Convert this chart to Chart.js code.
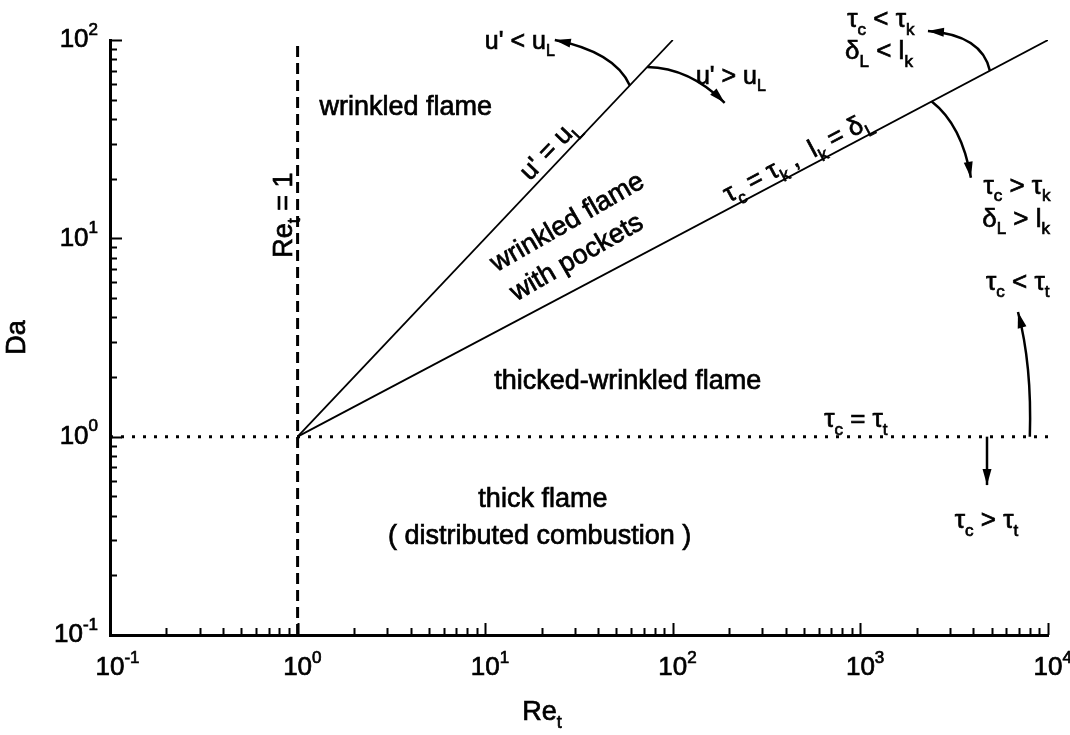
<!DOCTYPE html>
<html>
<head>
<meta charset="utf-8">
<script src="https://cdn.jsdelivr.net/npm/chart.js@4.4.1/dist/chart.umd.min.js"></script>
<style>
  html, body { margin: 0; padding: 0; background: #fff; }
</style>
</head>
<body>
<canvas id="regime" width="1070" height="735"></canvas>
<script>
const reTicks = [0.1, 1, 10, 100, 1000, 10000];
const daTicks = [0.1, 1, 10, 100];
const reExp = ['-1', '0', '1', '2', '3', '4'];
const daExp = ['-1', '0', '1', '2'];

// regime boundaries, Re_t vs Da
const reOneRe = [1, 1];
const reOneDa = [0.1, 100];
const tauTRe = [0.1, 10000];
const tauTDa = [1, 1];
const uLRe = [1, 100];
const uLDa = [1, 100];
const tauKRe = [1, 10000];
const tauKDa = [1, 100];

// text labels: [text, Re, Da, font size, angle]  ('_' = subscript next char)
const labels = [
  ['wrinkled flame', 3.77, 45.5, 27, 0],
  ["u' < u_L", 15.3, 97.8, 25, 0],
  ["u' > u_L", 204, 65.2, 25, 0],
  ["u' = u_L", 22.1, 27.9, 26, 'uL'],
  ['wrinkled flame', 27.5, 12.0, 27, -30],
  ['with pockets', 30.8, 7.96, 27, -30],
  ['τ_c = τ_k ,  l_k = δ_L', 464, 25.4, 26, 'tauK'],
  ['Re_t = 1', 0.852, 13.1, 27, -90],
  ['τ_c < τ_k', 1286, 126, 26, 0],
  ['δ_L < l_k', 1256, 87, 26, 0],
  ['τ_c > τ_k', 6835, 18.2, 26, 0],
  ['δ_L > l_k', 6760, 12.4, 26, 0],
  ['τ_c < τ_t', 6900, 5.96, 26, 0],
  ['τ_c = τ_t', 946, 1.21, 26, 0],
  ['τ_c > τ_t', 4700, 0.375, 26, 0],
  ['thicked-wrinkled flame', 57.5, 1.89, 27, 0],
  ['thick flame', 20.3, 0.48, 27, 0],
  ['( distributed combustion )', 19.5, 0.312, 27, 0]
];

// arrows: from, control, to  (Re, Da)
const arrows = [
  [[59, 59], [49.1, 87.1], [23.5, 100]],
  [[73, 73], [123, 72.3], [189, 48.2]],
  [[4900, 70], [4446, 106], [2291, 111]],
  [[2400, 49], [3476, 37.3], [3882, 20.2]],
  [[8000, 1], [8222, 2.3], [6918, 4.25]],
  [[4730, 1], null, [4730, 0.57]]
];

const FONT = '"Liberation Sans", Arial, sans-serif';

function pairs(xs, ys) {
  return xs.map((x, i) => ({ x: x, y: ys[i] }));
}

function parseRich(s) {
  const out = [];
  for (let i = 0; i < s.length; i++) {
    if (s[i] === '_') {
      out.push({ t: s[i + 1], sub: true });
      i++;
    } else if (out.length && !out[out.length - 1].sub) {
      out[out.length - 1].t += s[i];
    } else {
      out.push({ t: s[i], sub: false });
    }
  }
  return out;
}

// fill + thin stroke so the text looks as heavy as the scan
function ink(ctx, t, x, y) {
  ctx.fillText(t, x, y);
  ctx.strokeText(t, x, y);
}

function drawRich(ctx, text, px, py, size, angle) {
  const parts = parseRich(text);
  const subSize = Math.round(size * 0.65);
  let total = 0;
  parts.forEach(p => {
    ctx.font = (p.sub ? subSize : size) + 'px ' + FONT;
    p.w = ctx.measureText(p.t).width;
    total += p.w;
  });
  ctx.save();
  ctx.translate(px, py);
  ctx.rotate(angle);
  ctx.textBaseline = 'middle';
  ctx.textAlign = 'left';
  ctx.lineWidth = 0.7;
  let x = -total / 2;
  parts.forEach(p => {
    ctx.font = (p.sub ? subSize : size) + 'px ' + FONT;
    ink(ctx, p.t, x, p.sub ? size * 0.38 : 0);
    x += p.w;
  });
  ctx.restore();
}

function drawArrow(ctx, a, b, c) {
  ctx.beginPath();
  ctx.moveTo(a[0], a[1]);
  if (b) ctx.quadraticCurveTo(b[0], b[1], c[0], c[1]);
  else ctx.lineTo(c[0], c[1]);
  ctx.stroke();
  const from = b || a;
  const ang = Math.atan2(c[1] - from[1], c[0] - from[0]);
  const len = 16, half = 4.5;
  ctx.beginPath();
  ctx.moveTo(c[0], c[1]);
  ctx.lineTo(c[0] - len * Math.cos(ang) + half * Math.sin(ang), c[1] - len * Math.sin(ang) - half * Math.cos(ang));
  ctx.lineTo(c[0] - len * Math.cos(ang) - half * Math.sin(ang), c[1] - len * Math.sin(ang) + half * Math.cos(ang));
  ctx.closePath();
  ctx.fill();
}

const decor = {
  id: 'decor',
  afterDraw(chart) {
    const ctx = chart.ctx;
    const xs = chart.scales.x, ys = chart.scales.y;
    const area = chart.chartArea;
    const P = (re, da) => [xs.getPixelForValue(re), ys.getPixelForValue(da)];
    ctx.save();
    ctx.fillStyle = '#000';
    ctx.strokeStyle = '#000';

    // inward ticks, major and minor
    ctx.lineWidth = 2;
    ctx.beginPath();
    reTicks.forEach((v, i) => {
      for (let k = 1; k <= 9; k++) {
        if (i === reTicks.length - 1 && k > 1) break;
        const px = Math.round(xs.getPixelForValue(v * k)) + 0.5;
        const len = k === 1 ? 12 : 7;
        ctx.moveTo(px, area.bottom);
        ctx.lineTo(px, area.bottom - len);
      }
    });
    daTicks.forEach((v, i) => {
      for (let k = 1; k <= 9; k++) {
        if (i === daTicks.length - 1 && k > 1) break;
        const py = Math.round(ys.getPixelForValue(v * k)) + 0.5;
        const len = k === 1 ? 12 : 7;
        ctx.moveTo(area.left, py);
        ctx.lineTo(area.left + len, py);
      }
    });
    ctx.stroke();

    // tick labels 10^n
    ctx.textBaseline = 'middle';
    ctx.lineWidth = 0.7;
    reTicks.forEach((v, i) => {
      const px = xs.getPixelForValue(v);
      ctx.font = '26px ' + FONT;
      const w = ctx.measureText('10').width;
      ctx.textAlign = 'center';
      ink(ctx, '10', px, area.bottom + 33);
      ctx.font = '17px ' + FONT;
      ctx.textAlign = 'left';
      ink(ctx, reExp[i], px + w / 2, area.bottom + 23);
    });
    daTicks.forEach((v, i) => {
      const py = ys.getPixelForValue(v);
      ctx.font = '17px ' + FONT;
      const we = ctx.measureText(daExp[i]).width;
      ctx.textAlign = 'right';
      ink(ctx, daExp[i], area.left - 12, py - 10);
      ctx.font = '26px ' + FONT;
      ink(ctx, '10', area.left - 12 - we, py);
    });

    // axis titles
    drawRich(ctx, 'Da', area.left - 92, (area.top + area.bottom) / 2, 27, -Math.PI / 2);
    drawRich(ctx, 'Re_t', area.left + 432, area.bottom + 78, 27, 0);

    // region labels
    const lineAngle = (res, das) => {
      const a = P(res[0], das[0]), b = P(res[1], das[1]);
      return Math.atan2(b[1] - a[1], b[0] - a[0]);
    };
    labels.forEach(l => {
      const p = P(l[1], l[2]);
      let ang;
      if (l[4] === 'uL') ang = lineAngle(uLRe, uLDa);
      else if (l[4] === 'tauK') ang = lineAngle(tauKRe, tauKDa);
      else ang = l[4] * Math.PI / 180;
      drawRich(ctx, l[0], p[0], p[1], l[3], ang);
    });

    // arrows
    ctx.lineWidth = 2.5;
    arrows.forEach(a => {
      drawArrow(ctx, P(a[0][0], a[0][1]), a[1] ? P(a[1][0], a[1][1]) : null, P(a[2][0], a[2][1]));
    });
    ctx.restore();
  }
};

const line = (data, width, dash) => ({
  data: data,
  showLine: true,
  borderColor: '#000',
  borderWidth: width,
  borderDash: dash,
  pointRadius: 0,
  fill: false
});

new Chart(document.getElementById('regime'), {
  type: 'scatter',
  data: {
    datasets: [
      line(pairs(reOneRe, reOneDa), 3, [11, 6]),
      line(pairs(tauTRe, tauTDa), 3, [3, 8]),
      line(pairs(uLRe, uLDa), 1.8, []),
      line(pairs(tauKRe, tauKDa), 1.8, [])
    ]
  },
  options: {
    responsive: false,
    devicePixelRatio: 1,
    animation: false,
    layout: { padding: { left: 0, right: 22, top: 40, bottom: 0 } },
    plugins: { legend: { display: false }, tooltip: { enabled: false } },
    scales: {
      x: {
        type: 'logarithmic',
        min: 0.1,
        max: 10000,
        grid: { display: false },
        border: { display: true, color: '#000', width: 3 },
        ticks: { display: false },
        afterFit: s => { s.height = 100; }
      },
      y: {
        type: 'logarithmic',
        min: 0.1,
        max: 100,
        grid: { display: false },
        border: { display: true, color: '#000', width: 3 },
        ticks: { display: false },
        afterFit: s => { s.width = 110; }
      }
    }
  },
  plugins: [decor]
});
</script>
</body>
</html>
